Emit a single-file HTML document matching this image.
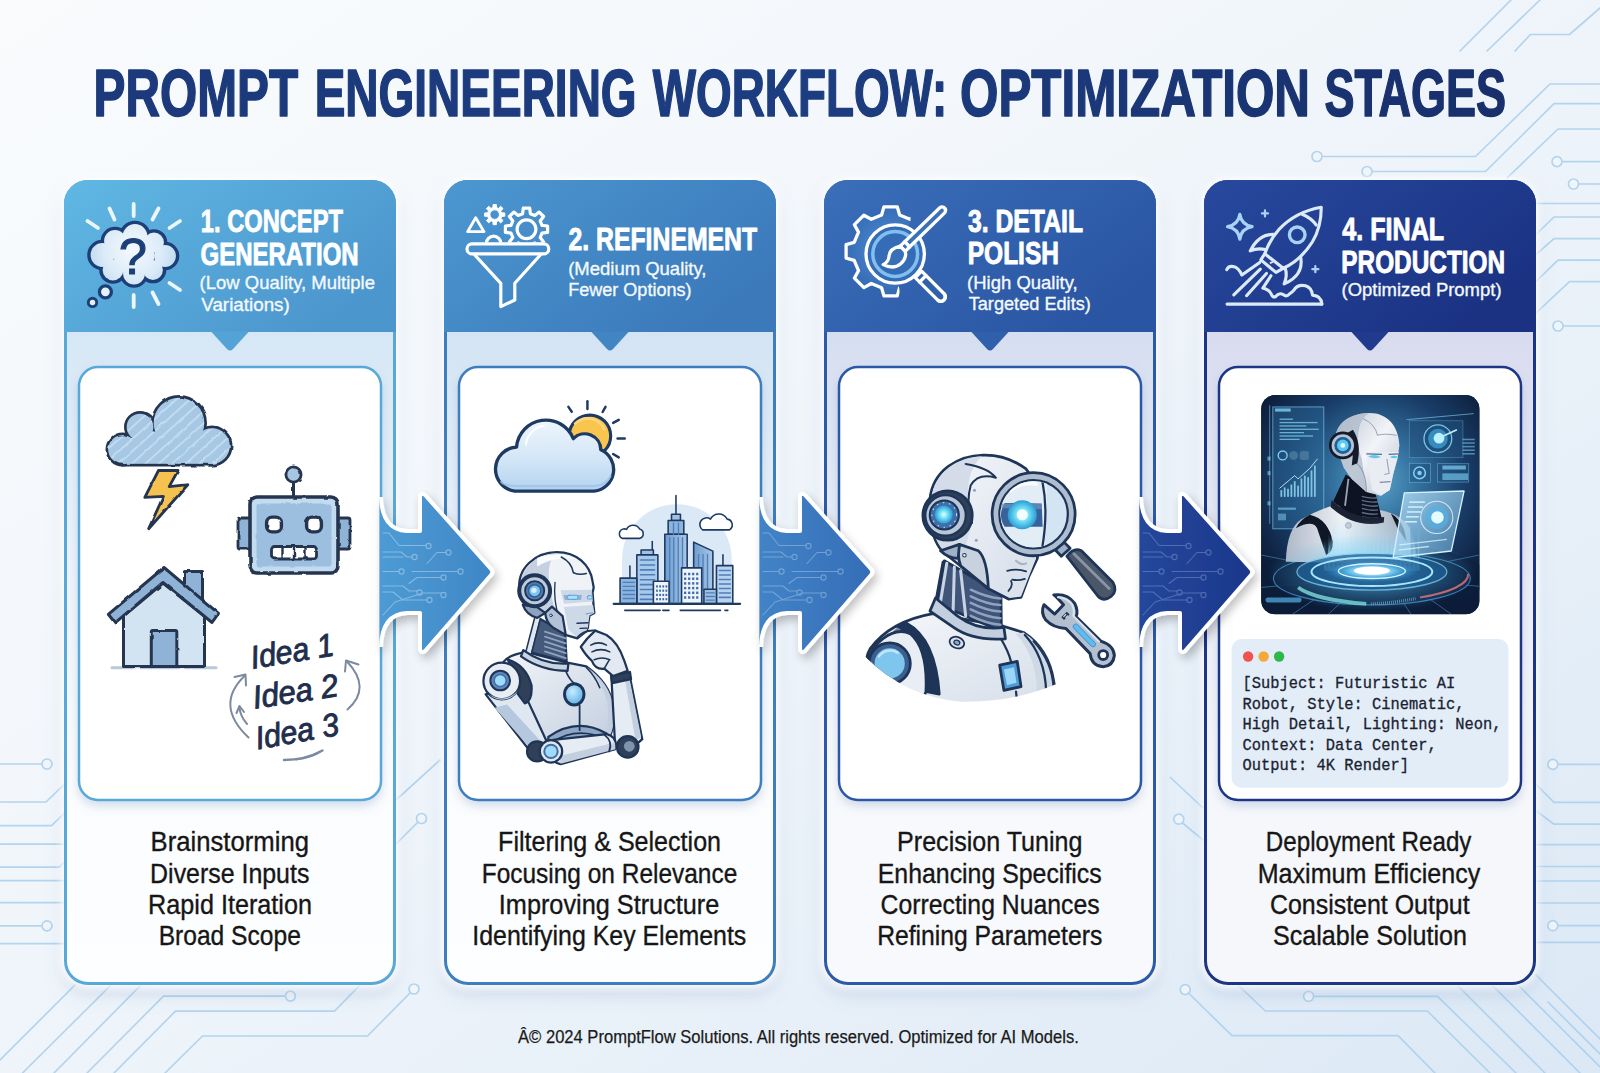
<!DOCTYPE html>
<html lang="en"><head><meta charset="utf-8"><title>Prompt Engineering Workflow: Optimization Stages</title>
<style>
html,body{margin:0;padding:0;background:#f1f6fb;}
body{width:1600px;height:1073px;overflow:hidden;font-family:"Liberation Sans",sans-serif;}
svg{display:block;position:absolute;left:0;top:0;}
</style></head><body>
<svg width="1600" height="1073" viewBox="0 0 1600 1073">
<defs>
<linearGradient id="bg" x1="0" y1="0" x2="1" y2="1"><stop offset="0" stop-color="#f9fbfd"/><stop offset="0.35" stop-color="#f3f7fb"/><stop offset="0.75" stop-color="#e6eff8"/><stop offset="1" stop-color="#dbe8f5"/></linearGradient>
<linearGradient id="ttl" gradientUnits="userSpaceOnUse" x1="96" y1="0" x2="1505" y2="0"><stop offset="0" stop-color="#1b397b"/><stop offset="0.5" stop-color="#1c3d80"/><stop offset="1" stop-color="#182f6b"/></linearGradient>
<linearGradient id="h0" x1="0" y1="0" x2="1" y2="0.6"><stop offset="0" stop-color="#60b8e3"/><stop offset="1" stop-color="#4c96ce"/></linearGradient>
<linearGradient id="b0" x1="0" y1="0" x2="0" y2="1"><stop offset="0" stop-color="#d0e4f4"/><stop offset="0.12" stop-color="#d0e4f4"/><stop offset="0.5" stop-color="#eef4fb"/><stop offset="0.75" stop-color="#fbfcfe"/><stop offset="1" stop-color="#fdfeff"/></linearGradient>
<linearGradient id="a0" x1="0" y1="0" x2="1" y2="0"><stop offset="0" stop-color="#4d9bd4"/><stop offset="1" stop-color="#3f86c6"/></linearGradient>
<clipPath id="cc0"><rect x="64" y="180" width="332" height="805" rx="24"/></clipPath>
<linearGradient id="h1" x1="0" y1="0" x2="1" y2="0.6"><stop offset="0" stop-color="#4c98d1"/><stop offset="1" stop-color="#3b79bb"/></linearGradient>
<linearGradient id="b1" x1="0" y1="0" x2="0" y2="1"><stop offset="0" stop-color="#cde0f2"/><stop offset="0.12" stop-color="#cde0f2"/><stop offset="0.5" stop-color="#eef4fb"/><stop offset="0.75" stop-color="#fbfcfe"/><stop offset="1" stop-color="#fdfeff"/></linearGradient>
<linearGradient id="a1" x1="0" y1="0" x2="1" y2="0"><stop offset="0" stop-color="#4283c7"/><stop offset="1" stop-color="#346db6"/></linearGradient>
<clipPath id="cc1"><rect x="444" y="180" width="332" height="805" rx="24"/></clipPath>
<linearGradient id="h2" x1="0" y1="0" x2="1" y2="0.6"><stop offset="0" stop-color="#3a6fba"/><stop offset="1" stop-color="#2a55a3"/></linearGradient>
<linearGradient id="b2" x1="0" y1="0" x2="0" y2="1"><stop offset="0" stop-color="#d0daee"/><stop offset="0.12" stop-color="#d0daee"/><stop offset="0.5" stop-color="#ebeff8"/><stop offset="0.75" stop-color="#f8f9fc"/><stop offset="1" stop-color="#f8f9fc"/></linearGradient>
<linearGradient id="a2" x1="0" y1="0" x2="1" y2="0"><stop offset="0" stop-color="#24479c"/><stop offset="1" stop-color="#1c378a"/></linearGradient>
<clipPath id="cc2"><rect x="824" y="180" width="332" height="805" rx="24"/></clipPath>
<linearGradient id="h3" x1="0" y1="0" x2="1" y2="0.6"><stop offset="0" stop-color="#27499e"/><stop offset="1" stop-color="#1b3283"/></linearGradient>
<linearGradient id="b3" x1="0" y1="0" x2="0" y2="1"><stop offset="0" stop-color="#d4d8ed"/><stop offset="0.12" stop-color="#d4d8ed"/><stop offset="0.5" stop-color="#eaecf6"/><stop offset="0.75" stop-color="#f6f7fb"/><stop offset="1" stop-color="#f6f7fb"/></linearGradient>
<clipPath id="cc3"><rect x="1204" y="180" width="332" height="805" rx="24"/></clipPath>
<filter id="sh" x="-12%" y="-6%" width="124%" height="112%"><feGaussianBlur in="SourceAlpha" stdDeviation="9"/><feOffset dx="0" dy="9" result="o"/><feFlood flood-color="#6f8fbd" flood-opacity="0.26"/><feComposite in2="o" operator="in" result="s1"/><feGaussianBlur in="SourceAlpha" stdDeviation="4.5" result="g"/><feFlood flood-color="#ffffff" flood-opacity="0.95"/><feComposite in2="g" operator="in" result="s2"/><feMerge><feMergeNode in="s1"/><feMergeNode in="s2"/><feMergeNode in="s2"/><feMergeNode in="SourceGraphic"/></feMerge></filter>
<filter id="sh2" x="-10%" y="-10%" width="120%" height="120%"><feGaussianBlur in="SourceAlpha" stdDeviation="5"/><feOffset dx="0" dy="5" result="o"/><feFlood flood-color="#6f8fbd" flood-opacity="0.28"/><feComposite in2="o" operator="in"/><feMerge><feMergeNode/><feMergeNode in="SourceGraphic"/></feMerge></filter>
<filter id="sh3" x="-20%" y="-20%" width="150%" height="150%"><feGaussianBlur in="SourceAlpha" stdDeviation="5"/><feOffset dx="3" dy="5"/><feComponentTransfer><feFuncA type="linear" slope="0.25"/></feComponentTransfer><feMerge><feMergeNode/><feMergeNode in="SourceGraphic"/></feMerge></filter>
</defs>
<rect width="1600" height="1073" fill="url(#bg)"/>
<g id="circuits" fill="none" stroke="#a9cfec" stroke-width="1.7" stroke-linejoin="round" stroke-linecap="round" opacity="0.85">
<polyline points="1460,51 1511,0"/>
<polyline points="1487,51 1540,0"/>
<polyline points="1515,51 1530.5,34.5 1569.5,34.5 1600,8"/>
<polyline points="1322,156.5 1475.5,156.5 1550,84 1600,84"/>
<circle cx="1317" cy="156.5" r="5" fill="#f1f6fb"/>
<polyline points="1372,171.5 1485.5,171.5 1554,103.7 1600,103.7"/>
<circle cx="1367" cy="171.5" r="5" fill="#f1f6fb"/>
<polyline points="1507,178 1558,129 1600,129"/>
<polyline points="1562,161.6 1600,161.6"/>
<circle cx="1557" cy="161.6" r="5" fill="#f1f6fb"/>
<polyline points="1578.5,184 1600,184"/>
<circle cx="1573.5" cy="184" r="5" fill="#f1f6fb"/>
<polyline points="1536,203.5 1600,203.5"/>
<polyline points="1536,234.5 1554,217 1600,217"/>
<polyline points="1536,254.5 1554,238.7 1600,238.7"/>
<polyline points="1536,281.5 1558,260.2 1600,260.2"/>
<polyline points="1536,313 1569.5,281.7 1600,281.7"/>
<polyline points="1563,326 1600,326"/>
<circle cx="1558" cy="326" r="5" fill="#f1f6fb"/>
<polyline points="0,764 42,764"/>
<circle cx="47" cy="764" r="5" fill="#f1f6fb"/>
<polyline points="0,802 46,802 64,784.6"/>
<polyline points="0,825.7 51.5,825.7 64,813.7"/>
<polyline points="0,844.1 64,844.1"/>
<polyline points="0,867.2 59.3,867.2 64,862.5"/>
<polyline points="0,880.6 64,880.6"/>
<polyline points="0,902.7 64,902.7"/>
<polyline points="0,925.8 42,925.8"/>
<circle cx="47" cy="925.8" r="5" fill="#f1f6fb"/>
<polyline points="0,943.7 64,943.7"/>
<polyline points="0,1060 75,985"/>
<polyline points="22.5,1073 111,985"/>
<polyline points="54,1073 141,985"/>
<polyline points="87,1073 163.5,996.1 285.4,996.1"/>
<circle cx="290.4" cy="996.1" r="5" fill="#f1f6fb"/>
<polyline points="114,1073 175.5,1011.1 334.5,1011.1 360,985"/>
<polyline points="165,1073 202.5,1036 367.5,1036 410.5,992.5"/>
<circle cx="414" cy="989" r="5" fill="#f1f6fb"/>
<polyline points="395,845 418,822"/>
<circle cx="421.5" cy="818.5" r="5" fill="#f1f6fb"/>
<polyline points="396,800 440,760"/>
<polyline points="1170.5,777.5 1203,808"/>
<polyline points="1182,822.5 1203,840"/>
<circle cx="1178.8" cy="819.2" r="5" fill="#f1f6fb"/>
<polyline points="1188.5,993 1232,1035.7 1398,1035.7 1435,1073"/>
<circle cx="1185.2" cy="989.6" r="5" fill="#f1f6fb"/>
<polyline points="1313.6,996.3 1437.5,996.3 1516,1073"/>
<circle cx="1308.6" cy="996.3" r="5" fill="#f1f6fb"/>
<polyline points="1239,986 1265.4,1011 1427.3,1011 1490,1073"/>
<polyline points="1458,986 1545,1073"/>
<polyline points="1493,986 1580,1073"/>
<polyline points="1519,986 1600,1067"/>
<polyline points="1536,975 1600,1039"/>
<polyline points="1548,1002 1600,1054"/>
<polyline points="1557.8,764.4 1600,764.4"/>
<circle cx="1552.8" cy="764.4" r="5" fill="#f1f6fb"/>
<polyline points="1536.5,784.8 1554,802.3 1600,802.3"/>
<polyline points="1536.5,811 1554,824.2 1600,824.2"/>
<polyline points="1536.5,844.6 1600,844.6"/>
<polyline points="1536.5,866.5 1600,866.5"/>
<polyline points="1536.5,881 1600,881"/>
<polyline points="1536.5,903 1600,903"/>
<polyline points="1557.8,925.7 1600,925.7"/>
<circle cx="1552.8" cy="925.7" r="5" fill="#f1f6fb"/>
<polyline points="1536.5,942.3 1600,942.3"/>
</g>
<text id="title" font-family='"Liberation Sans", sans-serif' font-size="66" font-weight="bold"><tspan x="93.57" y="115.5" font-size="66" font-weight="bold" fill="url(#ttl)" stroke="url(#ttl)" stroke-width="1.6" stroke-linejoin="round" font-family='"Liberation Sans", sans-serif' textLength="204.63" lengthAdjust="spacingAndGlyphs" >PROMPT</tspan> <tspan x="314.70" y="115.5" font-size="66" font-weight="bold" fill="url(#ttl)" stroke="url(#ttl)" stroke-width="1.6" stroke-linejoin="round" font-family='"Liberation Sans", sans-serif' textLength="321.93" lengthAdjust="spacingAndGlyphs" >ENGINEERING</tspan> <tspan x="652.80" y="115.5" font-size="66" font-weight="bold" fill="url(#ttl)" stroke="url(#ttl)" stroke-width="1.6" stroke-linejoin="round" font-family='"Liberation Sans", sans-serif' textLength="294.48" lengthAdjust="spacingAndGlyphs" >WORKFLOW:</tspan> <tspan x="960.08" y="115.5" font-size="66" font-weight="bold" fill="url(#ttl)" stroke="url(#ttl)" stroke-width="1.6" stroke-linejoin="round" font-family='"Liberation Sans", sans-serif' textLength="349.93" lengthAdjust="spacingAndGlyphs" >OPTIMIZATION</tspan> <tspan x="1324.45" y="115.5" font-size="66" font-weight="bold" fill="url(#ttl)" stroke="url(#ttl)" stroke-width="1.6" stroke-linejoin="round" font-family='"Liberation Sans", sans-serif' textLength="181.55" lengthAdjust="spacingAndGlyphs" >STAGES</tspan></text>
<g id="card0">
<rect x="64" y="180" width="332" height="805" rx="24" fill="url(#b0)" filter="url(#sh)"/>
<rect x="65.5" y="181.5" width="329" height="802" rx="22.5" fill="none" stroke="#58a8d8" stroke-width="3"/>
<g clip-path="url(#cc0)"><rect x="64" y="180" width="332" height="152" fill="url(#h0)"/></g>
<path d="M211.0 331.5 L249.0 331.5 L233.0 349 Q230.0 352 227.0 349 Z" fill="#54a3d6"/>
<rect x="79" y="367" width="302" height="433" rx="19" fill="#ffffff" stroke="#58a8d8" stroke-width="2.5" filter="url(#sh2)"/>
</g>
<!--HEAD0-->
<!--ILLUS0-->
<g id="card1">
<rect x="444" y="180" width="332" height="805" rx="24" fill="url(#b1)" filter="url(#sh)"/>
<rect x="445.5" y="181.5" width="329" height="802" rx="22.5" fill="none" stroke="#3e7ebf" stroke-width="3"/>
<g clip-path="url(#cc1)"><rect x="444" y="180" width="332" height="152" fill="url(#h1)"/></g>
<path d="M591.0 331.5 L629.0 331.5 L613.0 349 Q610.0 352 607.0 349 Z" fill="#4185c3"/>
<rect x="459" y="367" width="302" height="433" rx="19" fill="#ffffff" stroke="#3e7ebf" stroke-width="2.5" filter="url(#sh2)"/>
</g>
<!--HEAD1-->
<!--ILLUS1-->
<g id="card2">
<rect x="824" y="180" width="332" height="805" rx="24" fill="url(#b2)" filter="url(#sh)"/>
<rect x="825.5" y="181.5" width="329" height="802" rx="22.5" fill="none" stroke="#2c59a8" stroke-width="3"/>
<g clip-path="url(#cc2)"><rect x="824" y="180" width="332" height="152" fill="url(#h2)"/></g>
<path d="M971.0 331.5 L1009.0 331.5 L993.0 349 Q990.0 352 987.0 349 Z" fill="#305fac"/>
<rect x="839" y="367" width="302" height="433" rx="19" fill="#ffffff" stroke="#2c59a8" stroke-width="2.5" filter="url(#sh2)"/>
</g>
<!--HEAD2-->
<!--ILLUS2-->
<g id="card3">
<rect x="1204" y="180" width="332" height="805" rx="24" fill="url(#b3)" filter="url(#sh)"/>
<rect x="1205.5" y="181.5" width="329" height="802" rx="22.5" fill="none" stroke="#1c3585" stroke-width="3"/>
<g clip-path="url(#cc3)"><rect x="1204" y="180" width="332" height="152" fill="url(#h3)"/></g>
<path d="M1351.0 331.5 L1389.0 331.5 L1373.0 349 Q1370.0 352 1367.0 349 Z" fill="#203b8d"/>
<rect x="1219" y="367" width="302" height="433" rx="19" fill="#ffffff" stroke="#1c3585" stroke-width="2.5" filter="url(#sh2)"/>
</g>
<text x="200.87" y="231.9" font-size="31.4" font-weight="bold" fill="#ffffff" stroke="#ffffff" stroke-width="0.9" stroke-linejoin="round" font-family='"Liberation Sans", sans-serif' textLength="142.04" lengthAdjust="spacingAndGlyphs" >1. CONCEPT</text>
<text x="200.49" y="264.9" font-size="31.4" font-weight="bold" fill="#ffffff" stroke="#ffffff" stroke-width="0.9" stroke-linejoin="round" font-family='"Liberation Sans", sans-serif' textLength="158.19" lengthAdjust="spacingAndGlyphs" >GENERATION</text>
<text x="199.62" y="288.8" font-size="18.6" font-weight="normal" fill="#f4f9fe" stroke="#f4f9fe" stroke-width="0.35" stroke-linejoin="round" font-family='"Liberation Sans", sans-serif' textLength="175.40" lengthAdjust="spacingAndGlyphs" >(Low Quality, Multiple</text>
<text x="201.28" y="310.6" font-size="18.6" font-weight="normal" fill="#f4f9fe" stroke="#f4f9fe" stroke-width="0.35" stroke-linejoin="round" font-family='"Liberation Sans", sans-serif' textLength="88.49" lengthAdjust="spacingAndGlyphs" >Variations)</text>
<text x="568.48" y="250.2" font-size="31.8" font-weight="bold" fill="#ffffff" stroke="#ffffff" stroke-width="0.9" stroke-linejoin="round" font-family='"Liberation Sans", sans-serif' textLength="188.66" lengthAdjust="spacingAndGlyphs" >2. REFINEMENT</text>
<text x="568.22" y="274.7" font-size="18.6" font-weight="normal" fill="#f4f9fe" stroke="#f4f9fe" stroke-width="0.35" stroke-linejoin="round" font-family='"Liberation Sans", sans-serif' textLength="138.29" lengthAdjust="spacingAndGlyphs" >(Medium Quality,</text>
<text x="568.19" y="296.1" font-size="18.6" font-weight="normal" fill="#f4f9fe" stroke="#f4f9fe" stroke-width="0.35" stroke-linejoin="round" font-family='"Liberation Sans", sans-serif' textLength="123.33" lengthAdjust="spacingAndGlyphs" >Fewer Options)</text>
<text x="967.99" y="231.8" font-size="31.4" font-weight="bold" fill="#ffffff" stroke="#ffffff" stroke-width="0.9" stroke-linejoin="round" font-family='"Liberation Sans", sans-serif' textLength="115.03" lengthAdjust="spacingAndGlyphs" >3. DETAIL</text>
<text x="967.69" y="264.3" font-size="31.4" font-weight="bold" fill="#ffffff" stroke="#ffffff" stroke-width="0.9" stroke-linejoin="round" font-family='"Liberation Sans", sans-serif' textLength="91.32" lengthAdjust="spacingAndGlyphs" >POLISH</text>
<text x="967.12" y="288.6" font-size="18.6" font-weight="normal" fill="#f4f9fe" stroke="#f4f9fe" stroke-width="0.35" stroke-linejoin="round" font-family='"Liberation Sans", sans-serif' textLength="110.59" lengthAdjust="spacingAndGlyphs" >(High Quality,</text>
<text x="968.67" y="310" font-size="18.6" font-weight="normal" fill="#f4f9fe" stroke="#f4f9fe" stroke-width="0.35" stroke-linejoin="round" font-family='"Liberation Sans", sans-serif' textLength="122.16" lengthAdjust="spacingAndGlyphs" >Targeted Edits)</text>
<text x="1342.17" y="240.2" font-size="31.8" font-weight="bold" fill="#ffffff" stroke="#ffffff" stroke-width="0.9" stroke-linejoin="round" font-family='"Liberation Sans", sans-serif' textLength="102.05" lengthAdjust="spacingAndGlyphs" >4. FINAL</text>
<text x="1341.31" y="272.6" font-size="31.8" font-weight="bold" fill="#ffffff" stroke="#ffffff" stroke-width="0.9" stroke-linejoin="round" font-family='"Liberation Sans", sans-serif' textLength="163.79" lengthAdjust="spacingAndGlyphs" >PRODUCTION</text>
<text x="1341.52" y="295.8" font-size="18.6" font-weight="normal" fill="#f4f9fe" stroke="#f4f9fe" stroke-width="0.35" stroke-linejoin="round" font-family='"Liberation Sans", sans-serif' textLength="160.03" lengthAdjust="spacingAndGlyphs" >(Optimized Prompt)</text>
<g id="ico1">
<defs><radialGradient id="cl1" cx="133" cy="250" r="48" gradientUnits="userSpaceOnUse"><stop offset="0" stop-color="#f4f9fd"/><stop offset="0.6" stop-color="#dcebf8"/><stop offset="1" stop-color="#b9d8f0"/></radialGradient></defs>
<circle cx="102.5" cy="255" r="13.5" fill="#1d3f78" stroke="#1d3f78" stroke-width="3.6"/>
<circle cx="115" cy="241" r="12.5" fill="#1d3f78" stroke="#1d3f78" stroke-width="3.6"/>
<circle cx="135" cy="236.5" r="14" fill="#1d3f78" stroke="#1d3f78" stroke-width="3.6"/>
<circle cx="154" cy="242.5" r="11.5" fill="#1d3f78" stroke="#1d3f78" stroke-width="3.6"/>
<circle cx="165" cy="256" r="12.5" fill="#1d3f78" stroke="#1d3f78" stroke-width="3.6"/>
<circle cx="153" cy="270" r="11.5" fill="#1d3f78" stroke="#1d3f78" stroke-width="3.6"/>
<circle cx="134" cy="273.5" r="12.5" fill="#1d3f78" stroke="#1d3f78" stroke-width="3.6"/>
<circle cx="113" cy="270" r="12" fill="#1d3f78" stroke="#1d3f78" stroke-width="3.6"/>
<circle cx="134" cy="255" r="22" fill="#1d3f78" stroke="#1d3f78" stroke-width="3.6"/>
<circle cx="102.5" cy="255" r="11.9" fill="url(#cl1)"/>
<circle cx="115" cy="241" r="10.9" fill="url(#cl1)"/>
<circle cx="135" cy="236.5" r="12.4" fill="url(#cl1)"/>
<circle cx="154" cy="242.5" r="9.9" fill="url(#cl1)"/>
<circle cx="165" cy="256" r="10.9" fill="url(#cl1)"/>
<circle cx="153" cy="270" r="9.9" fill="url(#cl1)"/>
<circle cx="134" cy="273.5" r="10.9" fill="url(#cl1)"/>
<circle cx="113" cy="270" r="10.4" fill="url(#cl1)"/>
<circle cx="134" cy="255" r="20.4" fill="url(#cl1)"/>
<circle cx="105.4" cy="291.8" r="6" fill="#e4f0fa" stroke="#1d3f78" stroke-width="3.3"/>
<circle cx="92.5" cy="302.4" r="4.2" fill="#e4f0fa" stroke="#1d3f78" stroke-width="2.9"/>
<text x="133" y="274" font-size="50" font-weight="normal" stroke="#1d3f78" stroke-width="1.2" fill="#1d3f78" text-anchor="middle" font-family='"Liberation Sans", sans-serif'>?</text>
<line x1="133.7" y1="204" x2="133.7" y2="216" stroke="#ebf6fd" stroke-width="3.8" stroke-linecap="round"/>
<line x1="109.5" y1="208.5" x2="114.5" y2="219.5" stroke="#ebf6fd" stroke-width="3.8" stroke-linecap="round"/>
<line x1="158.5" y1="208.5" x2="152.5" y2="219.5" stroke="#ebf6fd" stroke-width="3.8" stroke-linecap="round"/>
<line x1="87.5" y1="221" x2="98" y2="228" stroke="#ebf6fd" stroke-width="3.8" stroke-linecap="round"/>
<line x1="180" y1="221" x2="169.5" y2="228" stroke="#ebf6fd" stroke-width="3.8" stroke-linecap="round"/>
<line x1="133.7" y1="295" x2="133.7" y2="307" stroke="#ebf6fd" stroke-width="3.8" stroke-linecap="round"/>
<line x1="152.5" y1="292.5" x2="158.5" y2="304" stroke="#ebf6fd" stroke-width="3.8" stroke-linecap="round"/>
<line x1="169.5" y1="283" x2="180" y2="290" stroke="#ebf6fd" stroke-width="3.8" stroke-linecap="round"/>
</g>
<g id="ico2" fill="none" stroke="#ffffff" stroke-width="3.2" stroke-linejoin="round" stroke-linecap="round">
<clipPath id="ck2"><rect x="440" y="190" width="130" height="52.4"/></clipPath>
<g clip-path="url(#ck2)">
<path d="M530.4 244.7 L529.7 250.3 L523.3 250.3 L522.6 244.7 L518.2 242.9 L513.8 246.3 L509.4 241.9 L512.8 237.5 L511.0 233.1 L505.4 232.4 L505.4 226.0 L511.0 225.3 L512.8 220.9 L509.4 216.5 L513.8 212.1 L518.2 215.5 L522.6 213.7 L523.3 208.1 L529.7 208.1 L530.4 213.7 L534.8 215.5 L539.2 212.1 L543.6 216.5 L540.2 220.9 L542.0 225.3 L547.6 226.0 L547.6 232.4 L542.0 233.1 L540.2 237.5 L543.6 241.9 L539.2 246.3 L534.8 242.9 Z"/>
<circle cx="526.5" cy="229.2" r="9.4"/>
<path d="M501.7 212.8 L504.8 213.0 L504.8 216.2 L501.7 216.4 L500.9 218.3 L503.0 220.6 L500.7 222.9 L498.4 220.8 L496.5 221.6 L496.3 224.7 L493.1 224.7 L492.9 221.6 L491.0 220.8 L488.7 222.9 L486.4 220.6 L488.5 218.3 L487.7 216.4 L484.6 216.2 L484.6 213.0 L487.7 212.8 L488.5 210.9 L486.4 208.6 L488.7 206.3 L491.0 208.4 L492.9 207.6 L493.1 204.5 L496.3 204.5 L496.5 207.6 L498.4 208.4 L500.7 206.3 L503.0 208.6 L500.9 210.9 Z M499.5 214.6 A4.8 4.8 0 1 0 489.9 214.6 A4.8 4.8 0 1 0 499.5 214.6 Z" fill="#ffffff" fill-rule="evenodd" stroke-width="1"/>
<circle cx="493.6" cy="243.5" r="7.3"/>
<path d="M467.6 231.7 L484 231.7 L475.7 217.8 Z" stroke-width="2.8"/>
</g>
<rect x="467" y="243.9" width="81.8" height="10" rx="5"/>
<path d="M474.8 255 L500.8 283.3 L500.8 306.6 L514.8 300 L514.8 283.3 L540.3 255"/>
</g>
<g id="ico3" fill="none" stroke="#ffffff" stroke-width="3.3" stroke-linejoin="round" stroke-linecap="round">
<clipPath id="ck3"><path d="M820 190 L910.5 190 L910.5 222 L893 252 L899.5 290 L899.5 310 L820 310 Z"/></clipPath>
<defs><radialGradient id="g3b" cx="890" cy="251" r="48" gradientUnits="userSpaceOnUse"><stop offset="0.55" stop-color="#4a8bd0" stop-opacity="0.55"/><stop offset="1" stop-color="#3a74bd" stop-opacity="0.25"/></radialGradient></defs>
<path d="M927.0 242.4 L935.1 244.7 L935.1 258.1 L927.0 260.4 L922.7 270.7 L926.8 278.1 L917.3 287.6 L909.9 283.5 L899.6 287.8 L897.3 295.9 L883.9 295.9 L881.6 287.8 L871.3 283.5 L863.9 287.6 L854.4 278.1 L858.5 270.7 L854.2 260.4 L846.1 258.1 L846.1 244.7 L854.2 242.4 L858.5 232.1 L854.4 224.7 L863.9 215.2 L871.3 219.3 L881.6 215.0 L883.9 206.9 L897.3 206.9 L899.6 215.0 L909.9 219.3 L917.3 215.2 L926.8 224.7 L922.7 232.1 Z" clip-path="url(#ck3)" fill="url(#g3b)"/>
<circle cx="895.2" cy="254" r="29.2" fill="#356cb6"/>
<circle cx="895.2" cy="254" r="22.4" stroke="#82bff1" stroke-width="3.5"/>
<path d="M915.2 277.6 L921.6 271.2 L944.4 294 A4.6 4.6 0 0 1 938 300.4 Z" fill="#2f62ad" transform="translate(0 0)"/>
<path d="M944.4 294 A4.55 4.55 0 0 1 938 300.4" />
<line x1="919.6" y1="282" x2="926" y2="275.6"/>
<path d="M943.6 207.3 Q946.8 209 944.9 212.6 L909.5 247 L904.8 241.6 L939.8 207.8 Q941.6 206.2 943.6 207.3 Z" fill="#3a70b8"/>
<path d="M904.8 241.6 L909.5 247 L905.2 251.4 L900.2 246.2 Z" fill="#3a70b8"/>
<path d="M900.2 246.2 Q889.5 248.5 889 256.5 Q888.6 261.8 883.2 264.6 Q893.5 269.6 900.4 264 Q907.2 258 905.2 251.4 Z" fill="#3a70b8"/>
</g>
<g id="ico4" transform="translate(1215 195) scale(0.11186)" fill="none" stroke="#dcebfb" stroke-width="28" stroke-linejoin="round" stroke-linecap="round">
<path d="M950 110 Q720 150 570 310 Q490 400 445 525 L610 655 Q760 590 870 420 Q950 290 950 110 Z"/>
<path d="M780 172 Q860 205 905 268"/>
<path d="M445 525 L410 580 L545 692 L610 655"/>
<path d="M497 607 L512 600" stroke-width="16"/>
<circle cx="735" cy="356" r="70" stroke="#a9d3f6" stroke-width="30"/>
<path d="M525 352 Q390 350 315 500 Q380 470 450 488"/>
<path d="M768 565 Q790 720 618 795 Q650 720 628 655"/>
<path d="M105 668 Q120 632 165 640 Q210 650 240 715 L400 603"/>
<line x1="405" y1="662" x2="168" y2="893"/>
<line x1="460" y1="702" x2="282" y2="900"/>
<path d="M500 722 L428 832 Q490 850 505 890 Q520 925 545 905 Q575 870 610 890 Q640 915 665 885 Q690 870 705 850 Q740 795 810 812 Q865 830 872 895 Q950 900 955 975"/>
<line x1="108" y1="975" x2="955" y2="975"/>
<path d="M222 172 Q235 265 332 283 Q235 300 222 395 Q208 300 112 283 Q208 265 222 172 Z" stroke="#a9d3f6"/>
<path d="M447 138 V192 M420 165 H474 M897 636 V690 M870 663 H924" stroke="#a9d3f6" stroke-width="20"/>
</g>
<defs><filter id="rough" x="-5%" y="-5%" width="110%" height="110%"><feTurbulence type="fractalNoise" baseFrequency="0.09" numOctaves="2" seed="7" result="n"/><feDisplacementMap in="SourceGraphic" in2="n" scale="2.6" xChannelSelector="R" yChannelSelector="G"/></filter></defs>
<g id="il0" stroke-linejoin="round" stroke-linecap="round" filter="url(#rough)">
<defs><pattern id="hatch0" width="9" height="9" patternUnits="userSpaceOnUse" patternTransform="rotate(-42)"><rect width="9" height="9" fill="#a7c8e4"/><rect y="0" width="9" height="1.6" fill="#c7dff2"/></pattern></defs>
<circle cx="122.5" cy="449.5" r="15.5" fill="#26364f" stroke="#26364f" stroke-width="3"/>
<circle cx="140" cy="427" r="14.5" fill="#26364f" stroke="#26364f" stroke-width="3"/>
<circle cx="179" cy="423" r="26.5" fill="#26364f" stroke="#26364f" stroke-width="3"/>
<circle cx="212" cy="446" r="19" fill="#26364f" stroke="#26364f" stroke-width="3"/>
<circle cx="153" cy="441" r="11" fill="#26364f" stroke="#26364f" stroke-width="3"/>
<rect x="122" y="440" width="90" height="25" fill="#26364f" stroke="#26364f" stroke-width="3"/>
<circle cx="122.5" cy="449.5" r="14.3" fill="url(#hatch0)"/>
<circle cx="140" cy="427" r="13.3" fill="url(#hatch0)"/>
<circle cx="179" cy="423" r="25.3" fill="url(#hatch0)"/>
<circle cx="212" cy="446" r="17.8" fill="url(#hatch0)"/>
<circle cx="153" cy="441" r="9.8" fill="url(#hatch0)"/>
<rect x="122" y="438" width="90" height="25.8" fill="url(#hatch0)"/>
<path d="M158.5 470.5 L178 470.5 L169.2 486.6 L187.8 484.7 L148.7 528.7 L163.4 496.4 L144.8 497.4 Z" fill="#f5c250" stroke="#26364f" stroke-width="2.8"/>
<line x1="293.5" y1="496" x2="293.5" y2="482" stroke="#26364f" stroke-width="3"/>
<circle cx="293.5" cy="474.5" r="7.6" fill="#a7c6e2" stroke="#26364f" stroke-width="2.8"/>
<rect x="238" y="518" width="13" height="31" rx="2" fill="#8fb3d6" stroke="#26364f" stroke-width="2.8"/>
<rect x="337" y="518" width="13" height="31" rx="2" fill="#8fb3d6" stroke="#26364f" stroke-width="2.8"/>
<rect x="250" y="497" width="88" height="76" rx="7" fill="#c3dbef" stroke="#26364f" stroke-width="3.6"/>
<rect x="256.5" y="503.5" width="75" height="63" rx="3" fill="#9dbfdf"/>
<rect x="266.6" y="517.1" width="14.8" height="14.8" rx="5.5" fill="#ffffff" stroke="#26364f" stroke-width="3.4"/>
<rect x="306.6" y="517.1" width="14.8" height="14.8" rx="5.5" fill="#ffffff" stroke="#26364f" stroke-width="3.4"/>
<rect x="271.5" y="546.5" width="45" height="12.5" rx="3" fill="#ffffff" stroke="#26364f" stroke-width="2.8"/>
<line x1="282.5" y1="547" x2="282.5" y2="558.5" stroke="#26364f" stroke-width="2.4"/>
<line x1="294" y1="547" x2="294" y2="558.5" stroke="#26364f" stroke-width="2.4"/>
<line x1="305.5" y1="547" x2="305.5" y2="558.5" stroke="#26364f" stroke-width="2.4"/>
<line x1="112" y1="667.8" x2="216" y2="667.8" stroke="#b9c9dc" stroke-width="3"/>
<path d="M184.5 588 L184.5 571.5 L202.5 571.5 L202.5 602 Z" fill="#8fb3d6" stroke="#26364f" stroke-width="3"/>
<path d="M123.5 616 L163 583 L204.5 616 L204.5 666.5 L123.5 666.5 Z" fill="#d2e3f2" stroke="#26364f" stroke-width="3"/>
<path d="M164 567.5 L218.5 613.3 L212 622.5 L163 582.5 L115 622.8 L108.3 614.3 Z" fill="#8fb3d6" stroke="#26364f" stroke-width="3"/>
<rect x="151.3" y="630.5" width="25.5" height="36" rx="1.5" fill="#8fb3d6" stroke="#26364f" stroke-width="3"/>
</g><g id="il0b" stroke-linejoin="round" stroke-linecap="round">
<text x="252.5" y="669" transform="rotate(-9.5 252.5 669)" font-size="32.5" font-style="italic" font-weight="normal" fill="#1f2e4d" stroke="#1f2e4d" stroke-width="0.9" textLength="84" lengthAdjust="spacingAndGlyphs" font-family='"Liberation Sans", sans-serif'>Idea 1</text>
<text x="254.5" y="708.7" transform="rotate(-8.6 254.5 708.7)" font-size="32.5" font-style="italic" font-weight="normal" fill="#1f2e4d" stroke="#1f2e4d" stroke-width="0.9" textLength="86" lengthAdjust="spacingAndGlyphs" font-family='"Liberation Sans", sans-serif'>Idea 2</text>
<text x="257.5" y="749.4" transform="rotate(-10 257.5 749.4)" font-size="32.5" font-style="italic" font-weight="normal" fill="#1f2e4d" stroke="#1f2e4d" stroke-width="0.9" textLength="84" lengthAdjust="spacingAndGlyphs" font-family='"Liberation Sans", sans-serif'>Idea 3</text>
<g fill="none" stroke="#7c8a9f" stroke-width="2">
<path d="M248.5 737.5 Q214 705 245 675.5"/><path d="M234.5 677 L245.5 674.5 L246 685.5"/>
<path d="M247 724 Q240 716 239.5 707"/><path d="M236.5 713 L239.5 706 L244 712"/>
<path d="M347.5 709.5 Q372 688 347 661.5"/><path d="M345 671.5 L346 660.5 L358.5 664.5"/>
<path d="M284 760 Q305 760 322.5 750.5" stroke-width="2.4"/><path d="M296 759.5 Q312 757.5 320 752"/>
</g>
</g>
<g id="il1" stroke-linejoin="round" stroke-linecap="round">
<defs><linearGradient id="cl2" x1="0" y1="0" x2="0" y2="1"><stop offset="0" stop-color="#eef5fc"/><stop offset="0.55" stop-color="#d3e6f7"/><stop offset="1" stop-color="#b3d3ef"/></linearGradient><linearGradient id="bld" x1="0" y1="0" x2="1" y2="0"><stop offset="0" stop-color="#6e9dd0"/><stop offset="1" stop-color="#a9c8e8"/></linearGradient><linearGradient id="rb" x1="0" y1="0" x2="1" y2="1"><stop offset="0" stop-color="#f2f5f9"/><stop offset="1" stop-color="#c3cfdf"/></linearGradient><radialGradient id="glow" cx="0.4" cy="0.35" r="0.7"><stop offset="0" stop-color="#c8ecfd"/><stop offset="1" stop-color="#63b4e8"/></radialGradient></defs>
<g transform="translate(470 380) scale(0.22365)">
<line x1="525" y1="95" x2="525" y2="130" stroke="#1e3a63" stroke-width="11"/>
<line x1="440" y1="120" x2="455" y2="142" stroke="#1e3a63" stroke-width="11"/>
<line x1="606" y1="120" x2="593" y2="143" stroke="#1e3a63" stroke-width="11"/>
<line x1="665" y1="178" x2="640" y2="192" stroke="#1e3a63" stroke-width="11"/>
<line x1="692" y1="262" x2="660" y2="262" stroke="#1e3a63" stroke-width="11"/>
<line x1="665" y1="346" x2="640" y2="331" stroke="#1e3a63" stroke-width="11"/>
<circle cx="536" cy="250" r="93" fill="#f9c54f" stroke="#1e3a63" stroke-width="14"/>
<path d="M470 195 A 80 80 0 0 1 600 220" fill="none" stroke="#fbd77e" stroke-width="12"/>
<path d="M200 497 L555 497 A 97 97 0 0 0 585 312 A 72 72 0 0 0 462 262 A 132 132 0 0 0 208 300 A 99 99 0 0 0 200 497 Z" fill="url(#cl2)" stroke="#1e3a63" stroke-width="15"/>
<path d="M250 290 A 95 95 0 0 1 330 205" fill="none" stroke="#ffffff" stroke-width="9" opacity="0.9"/>
<path d="M140 455 Q150 470 200 474 L560 474 Q610 470 628 430" fill="none" stroke="#9cc3e8" stroke-width="10" opacity="0.8"/>
<path d="M680 1000 L680 800 A 245 245 0 0 1 1170 800 L1170 1000 Z" fill="#dbe9f6" stroke="none"/>
<path d="M680 708 L760 708 A 22 22 0 0 0 758 666 A 33 33 0 0 0 700 668 A 22 22 0 0 0 680 708 Z" fill="#ffffff" stroke="#1e3a63" stroke-width="7"/>
<path d="M1040 670 L1160 670 A 26 26 0 0 0 1150 622 A 42 42 0 0 0 1075 622 A 28 28 0 0 0 1040 670 Z" fill="#ffffff" stroke="#1e3a63" stroke-width="7"/>
<path d="M1000 1000 L1000 725 L1086 765 L1086 1000 Z" fill="url(#bld)" stroke="#1e3a63" stroke-width="7"/>
<line x1="1022" y1="780" x2="1022" y2="940" stroke="#4e7fb8" stroke-width="6"/>
<line x1="1042" y1="780" x2="1042" y2="940" stroke="#4e7fb8" stroke-width="6"/>
<line x1="1062" y1="780" x2="1062" y2="940" stroke="#4e7fb8" stroke-width="6"/>
<line x1="921" y1="517" x2="921" y2="600" stroke="#1e3a63" stroke-width="7"/>
<rect x="901" y="600" width="40" height="28" fill="#9fc1e6" stroke="#1e3a63" stroke-width="7"/>
<rect x="886" y="628" width="70" height="62" fill="#8db4de" stroke="#1e3a63" stroke-width="7"/>
<rect x="871" y="690" width="100" height="310" fill="url(#bld)" stroke="#1e3a63" stroke-width="7"/>
<line x1="893" y1="705" x2="893" y2="990" stroke="#4e7fb8" stroke-width="6"/>
<line x1="911" y1="705" x2="911" y2="990" stroke="#4e7fb8" stroke-width="6"/>
<line x1="931" y1="705" x2="931" y2="990" stroke="#4e7fb8" stroke-width="6"/>
<line x1="950" y1="705" x2="950" y2="990" stroke="#4e7fb8" stroke-width="6"/>
<line x1="910" y1="640" x2="910" y2="690" stroke="#4e7fb8" stroke-width="6"/><line x1="932" y1="640" x2="932" y2="690" stroke="#4e7fb8" stroke-width="6"/>
<line x1="815" y1="722" x2="815" y2="765" stroke="#1e3a63" stroke-width="7"/>
<rect x="765" y="760" width="55" height="24" fill="#9fc1e6" stroke="#1e3a63" stroke-width="7"/>
<rect x="746" y="782" width="94" height="218" fill="#a9c9ea" stroke="#1e3a63" stroke-width="7"/>
<line x1="762" y1="805" x2="825" y2="805" stroke="#4e7fb8" stroke-width="7"/>
<line x1="762" y1="827" x2="825" y2="827" stroke="#4e7fb8" stroke-width="7"/>
<line x1="762" y1="849" x2="825" y2="849" stroke="#4e7fb8" stroke-width="7"/>
<line x1="762" y1="871" x2="825" y2="871" stroke="#4e7fb8" stroke-width="7"/>
<line x1="762" y1="893" x2="825" y2="893" stroke="#4e7fb8" stroke-width="7"/>
<line x1="762" y1="915" x2="825" y2="915" stroke="#4e7fb8" stroke-width="7"/>
<line x1="762" y1="937" x2="825" y2="937" stroke="#4e7fb8" stroke-width="7"/>
<line x1="762" y1="959" x2="825" y2="959" stroke="#4e7fb8" stroke-width="7"/>
<line x1="762" y1="981" x2="825" y2="981" stroke="#4e7fb8" stroke-width="7"/>
<line x1="715" y1="832" x2="715" y2="886" stroke="#1e3a63" stroke-width="7"/>
<rect x="671" y="886" width="75" height="114" fill="#8db4de" stroke="#1e3a63" stroke-width="7"/>
<line x1="685" y1="905" x2="735" y2="905" stroke="#4e7fb8" stroke-width="6"/>
<line x1="685" y1="923" x2="735" y2="923" stroke="#4e7fb8" stroke-width="6"/>
<line x1="685" y1="941" x2="735" y2="941" stroke="#4e7fb8" stroke-width="6"/>
<line x1="685" y1="959" x2="735" y2="959" stroke="#4e7fb8" stroke-width="6"/>
<line x1="685" y1="977" x2="735" y2="977" stroke="#4e7fb8" stroke-width="6"/>
<line x1="1131" y1="782" x2="1131" y2="830" stroke="#1e3a63" stroke-width="7"/>
<rect x="1102" y="830" width="73" height="170" fill="#b9d3ee" stroke="#1e3a63" stroke-width="7"/>
<line x1="1115" y1="852" x2="1164" y2="852" stroke="#4e7fb8" stroke-width="7"/>
<line x1="1115" y1="872" x2="1164" y2="872" stroke="#4e7fb8" stroke-width="7"/>
<line x1="1115" y1="892" x2="1164" y2="892" stroke="#4e7fb8" stroke-width="7"/>
<line x1="1115" y1="912" x2="1164" y2="912" stroke="#4e7fb8" stroke-width="7"/>
<line x1="1115" y1="932" x2="1164" y2="932" stroke="#4e7fb8" stroke-width="7"/>
<line x1="1115" y1="952" x2="1164" y2="952" stroke="#4e7fb8" stroke-width="7"/>
<line x1="1115" y1="972" x2="1164" y2="972" stroke="#4e7fb8" stroke-width="7"/>
<rect x="946" y="840" width="90" height="160" fill="#eef4fb" stroke="#1e3a63" stroke-width="7"/>
<rect x="957" y="862" width="10" height="11" fill="#3f6ea8"/>
<rect x="975" y="862" width="10" height="11" fill="#3f6ea8"/>
<rect x="993" y="862" width="10" height="11" fill="#3f6ea8"/>
<rect x="1011" y="862" width="10" height="11" fill="#3f6ea8"/>
<rect x="957" y="883" width="10" height="11" fill="#3f6ea8"/>
<rect x="975" y="883" width="10" height="11" fill="#3f6ea8"/>
<rect x="993" y="883" width="10" height="11" fill="#3f6ea8"/>
<rect x="1011" y="883" width="10" height="11" fill="#3f6ea8"/>
<rect x="957" y="904" width="10" height="11" fill="#3f6ea8"/>
<rect x="975" y="904" width="10" height="11" fill="#3f6ea8"/>
<rect x="993" y="904" width="10" height="11" fill="#3f6ea8"/>
<rect x="1011" y="904" width="10" height="11" fill="#3f6ea8"/>
<rect x="957" y="925" width="10" height="11" fill="#3f6ea8"/>
<rect x="975" y="925" width="10" height="11" fill="#3f6ea8"/>
<rect x="993" y="925" width="10" height="11" fill="#3f6ea8"/>
<rect x="1011" y="925" width="10" height="11" fill="#3f6ea8"/>
<rect x="957" y="946" width="10" height="11" fill="#3f6ea8"/>
<rect x="975" y="946" width="10" height="11" fill="#3f6ea8"/>
<rect x="993" y="946" width="10" height="11" fill="#3f6ea8"/>
<rect x="1011" y="946" width="10" height="11" fill="#3f6ea8"/>
<rect x="957" y="967" width="10" height="11" fill="#3f6ea8"/>
<rect x="975" y="967" width="10" height="11" fill="#3f6ea8"/>
<rect x="993" y="967" width="10" height="11" fill="#3f6ea8"/>
<rect x="1011" y="967" width="10" height="11" fill="#3f6ea8"/>
<rect x="820" y="900" width="70" height="100" fill="#eef4fb" stroke="#1e3a63" stroke-width="7"/>
<rect x="832" y="918" width="8" height="10" fill="#3f6ea8"/>
<rect x="846" y="918" width="8" height="10" fill="#3f6ea8"/>
<rect x="860" y="918" width="8" height="10" fill="#3f6ea8"/>
<rect x="874" y="918" width="8" height="10" fill="#3f6ea8"/>
<rect x="832" y="937" width="8" height="10" fill="#3f6ea8"/>
<rect x="846" y="937" width="8" height="10" fill="#3f6ea8"/>
<rect x="860" y="937" width="8" height="10" fill="#3f6ea8"/>
<rect x="874" y="937" width="8" height="10" fill="#3f6ea8"/>
<rect x="832" y="956" width="8" height="10" fill="#3f6ea8"/>
<rect x="846" y="956" width="8" height="10" fill="#3f6ea8"/>
<rect x="860" y="956" width="8" height="10" fill="#3f6ea8"/>
<rect x="874" y="956" width="8" height="10" fill="#3f6ea8"/>
<rect x="832" y="975" width="8" height="10" fill="#3f6ea8"/>
<rect x="846" y="975" width="8" height="10" fill="#3f6ea8"/>
<rect x="860" y="975" width="8" height="10" fill="#3f6ea8"/>
<rect x="874" y="975" width="8" height="10" fill="#3f6ea8"/>
<rect x="1046" y="936" width="56" height="64" fill="#9fc1e6" stroke="#1e3a63" stroke-width="7"/>
<line x1="1056" y1="952" x2="1092" y2="952" stroke="#4e7fb8" stroke-width="6"/>
<line x1="1056" y1="968" x2="1092" y2="968" stroke="#4e7fb8" stroke-width="6"/>
<line x1="1056" y1="984" x2="1092" y2="984" stroke="#4e7fb8" stroke-width="6"/>
<line x1="642" y1="1001" x2="1208" y2="1001" stroke="#1e3a63" stroke-width="9"/>
<line x1="692" y1="1030" x2="850" y2="1030" stroke="#1e3a63" stroke-width="7"/>
<line x1="862" y1="1030" x2="890" y2="1030" stroke="#1e3a63" stroke-width="7"/>
<line x1="940" y1="1030" x2="1120" y2="1030" stroke="#1e3a63" stroke-width="7"/>
<line x1="1140" y1="1030" x2="1153" y2="1030" stroke="#1e3a63" stroke-width="7"/>
</g>
<g id="robot2" transform="translate(470 540) scale(0.22371)" stroke-linejoin="round" stroke-linecap="round">
<path d="M70 690 L285 965 L395 900 L225 650 Z" fill="#dfe7f1" stroke="#1e3557" stroke-width="10"/>
<path d="M110 750 L290 955 L340 925 L165 735 Z" fill="#b5c8de" stroke="none"/>
<path d="M250 500 Q170 515 150 545 L250 700 L345 905 L620 890 Q655 820 640 740 Q625 640 520 565 L435 548 Z" fill="url(#rb)" stroke="#1e3557" stroke-width="10"/>
<path d="M520 565 Q600 640 615 740 Q625 820 600 888 L620 890 Q655 820 640 740 Q625 640 520 565 Z" fill="#c3cfdf" stroke="none"/>
<path d="M350 880 Q480 790 610 865 L620 900 L350 915 Z" fill="#8fa7c6" stroke="#1e3557" stroke-width="10"/>
<path d="M365 905 Q480 830 605 890" fill="none" stroke="#1e3557" stroke-width="7"/>
<path d="M430 590 Q445 625 470 645 M490 740 L490 850" fill="none" stroke="#1e3557" stroke-width="8"/>
<ellipse cx="466" cy="690" rx="50" ry="54" fill="#1e3557"/>
<ellipse cx="466" cy="690" rx="37" ry="41" fill="url(#glow)"/>
<path d="M520 570 Q560 610 580 660" fill="none" stroke="#1e3557" stroke-width="7"/>
<path d="M300 345 L425 415 L432 545 L262 500 Z" fill="#45597a" stroke="#1e3557" stroke-width="10"/>
<path d="M335 410 L428 440" stroke="#8fa3bf" stroke-width="8" fill="none"/>
<path d="M335 432 L428 462" stroke="#8fa3bf" stroke-width="8" fill="none"/>
<path d="M335 454 L428 484" stroke="#8fa3bf" stroke-width="8" fill="none"/>
<path d="M335 476 L428 506" stroke="#8fa3bf" stroke-width="8" fill="none"/>
<path d="M335 498 L428 528" stroke="#8fa3bf" stroke-width="8" fill="none"/>
<path d="M300 350 L262 500" stroke="#dfe7f1" stroke-width="22" fill="none"/>
<path d="M288 352 L250 498 M313 358 L276 503" stroke="#1e3557" stroke-width="7" fill="none"/>
<path d="M238 492 Q330 560 440 552 L436 585 Q320 585 228 520 Z" fill="#c9d4e2" stroke="#1e3557" stroke-width="10"/>
<path d="M222 232 C205 125 295 54 388 54 C478 54 538 112 548 185 L553 212 L548 236 L553 300 L556 326 L534 338 L530 366 L527 392 L518 410 L480 440 L426 424 L400 352 L336 326 Q238 330 222 232 Z" fill="#eff3f8" stroke="#1e3557" stroke-width="10"/>
<path d="M228 235 C212 130 298 60 388 59 C335 95 345 205 392 345 L338 320 Q244 326 228 235 Z" fill="#c5d1e0" stroke="none"/>
<path d="M300 80 C340 62 420 55 470 85 C420 75 350 85 300 120 Z" fill="#f9fbfd" stroke="none"/>
<path d="M420 300 L550 290 L556 326 L534 338 L530 366 L527 392 L518 410 L480 438 L440 400 Z" fill="#cdd9e7" stroke="none"/>
<path d="M405 225 L545 222 L550 275 L420 285 Z" fill="#c3d1e2" stroke="none" opacity="0.8"/>
<path d="M408 76 Q455 100 462 146 Q490 158 520 150" fill="none" stroke="#1e3557" stroke-width="7"/>
<path d="M398 346 Q372 270 380 190" fill="none" stroke="#1e3557" stroke-width="6"/>
<path d="M336 326 L366 298 L414 340 L428 424 L372 392 Q340 370 336 326 Z" fill="#b3c2d6" stroke="#1e3557" stroke-width="10"/>
<circle cx="362" cy="337" r="6" fill="#eef2f7" stroke="#1e3557" stroke-width="4"/>
<path d="M418 246 L500 246 L496 268 L424 268 Z" fill="#8fb0d4" stroke="none"/>
<rect x="436" y="247" width="46" height="18" rx="7" fill="#a9e4ff" stroke="#5b9bd5" stroke-width="4"/>
<rect x="524" y="249" width="22" height="15" rx="6" fill="#a9e4ff" stroke="#5b9bd5" stroke-width="4"/>
<path d="M520 330 L548 326" stroke="#8fa3bf" stroke-width="6" fill="none"/>
<path d="M478 372 L528 370 M492 395 L524 394" stroke="#1e3557" stroke-width="6" fill="none"/>
<path d="M236 290 Q252 335 300 348 L336 326 L300 300 Z" fill="#8fa3bf" stroke="#1e3557" stroke-width="10"/>
<circle cx="289" cy="227" r="75" fill="#1e3557" stroke="#1e3557" stroke-width="6"/>
<circle cx="289" cy="227" r="60" fill="#bccadc"/>
<circle cx="289" cy="227" r="43" fill="#4f79ad" stroke="#1e3557" stroke-width="8"/>
<circle cx="289" cy="227" r="27" fill="#7fc4ee" stroke="#2f5f98" stroke-width="6"/>
<circle cx="286" cy="225" r="12" fill="#d5f1fe"/>
<path d="M632 610 L648 905 Q700 960 770 890 L712 598 Z" fill="#e6ecf4" stroke="#1e3557" stroke-width="10"/>
<path d="M690 610 L740 895 Q755 890 765 880 L710 605 Z" fill="#c3cfdf" stroke="none"/>
<path d="M630 605 L715 590 L720 622 L636 640 Z" fill="#2f4058" stroke="#1e3557" stroke-width="10"/>
<path d="M495 478 Q520 440 560 405 L610 425 Q660 455 690 540 L705 585 L640 608 L600 575 Q560 580 545 540 Q520 520 495 478 Z" fill="#e3e9f2" stroke="#1e3557" stroke-width="10"/>
<path d="M540 470 Q575 450 610 470 M545 500 Q585 480 625 500 M555 535 Q590 520 625 535 M600 575 L620 540" fill="none" stroke="#1e3557" stroke-width="7"/>
<path d="M478 438 Q510 400 560 405" fill="none" stroke="#1e3557" stroke-width="9"/>
<circle cx="705" cy="925" r="48" fill="#2f4058" stroke="#1e3557" stroke-width="10"/>
<circle cx="712" cy="922" r="24" fill="#7f93ad"/>
<circle cx="300" cy="945" r="45" fill="#2f4058" stroke="#1e3557" stroke-width="10"/>
<path d="M372 893 L612 868 Q660 880 650 935 L405 1002 Q340 990 372 893 Z" fill="#e6ecf4" stroke="#1e3557" stroke-width="10"/>
<path d="M400 965 L648 905 L650 935 L405 1000 Z" fill="#c3cfdf" stroke="none"/>
<path d="M600 870 Q640 900 622 945" fill="none" stroke="#1e3557" stroke-width="8"/>
<circle cx="362" cy="945" r="50" fill="#dfe7f1" stroke="#1e3557" stroke-width="10"/>
<circle cx="362" cy="945" r="30" fill="#9fdcfb" stroke="#3f6ea8" stroke-width="9"/>
<path d="M170 535 Q250 560 275 650 Q280 720 245 730 L215 690 Z" fill="#2f4058" stroke="#1e3557" stroke-width="10"/>
<circle cx="142" cy="630" r="82" fill="#e8edf4" stroke="#1e3557" stroke-width="10"/>
<path d="M85 690 A 82 82 0 0 0 215 672 A 95 95 0 0 1 85 690 Z" fill="#b9c7d9" stroke="none"/>
<circle cx="135" cy="628" r="44" fill="#5f86b8" stroke="#1e3557" stroke-width="9"/>
<circle cx="135" cy="628" r="27" fill="#9fdcfb" stroke="#3f6ea8" stroke-width="7"/>
</g>
</g>
<g id="robot3" transform="translate(860 440) scale(0.25163)" stroke-linejoin="round" stroke-linecap="round">
<defs><clipPath id="r3clip"><path d="M0 0 L1073 0 L1073 972 L775 972 Q600 1045 400 1040 Q180 1020 20 860 L0 860 Z"/></clipPath><radialGradient id="eye3" cx="0.5" cy="0.5" r="0.5"><stop offset="0" stop-color="#eafdff"/><stop offset="0.4" stop-color="#7be6f8"/><stop offset="1" stop-color="#2a9bd6"/></radialGradient><linearGradient id="hd3" x1="0" y1="0" x2="1" y2="1"><stop offset="0" stop-color="#f6f8fb"/><stop offset="1" stop-color="#d4dde9"/></linearGradient></defs>
<g clip-path="url(#r3clip)">
<path d="M290 690 Q120 720 40 830 Q10 880 30 1000 L400 1073 L790 1073 L770 960 Q750 830 650 765 L570 740 Z" fill="url(#hd3)" stroke="#1e3557" stroke-width="11"/>
<path d="M650 765 Q750 830 770 960 L790 1073 L700 1073 Q720 880 620 770 Z" fill="#cfd8e5" stroke="none"/>
<path d="M655 775 Q735 860 740 1000" fill="none" stroke="#1e3557" stroke-width="9"/>
<path d="M690 800 Q765 880 770 990" fill="none" stroke="#1e3557" stroke-width="9"/>
<path d="M185 728 Q300 790 315 1010 L265 1000 Q270 820 150 745 Z" fill="#1e3557" stroke="#1e3557" stroke-width="11"/>
<path d="M150 745 Q270 820 265 1000 L240 995 Q240 830 130 760 Z" fill="#6f86a6" stroke="none"/>
<path d="M30 1000 Q0 860 90 790 Q150 745 200 770 Q270 830 262 1000 L240 1060 L60 1060 Z" fill="#e9eef5" stroke="#1e3557" stroke-width="11"/>
<circle cx="118" cy="888" r="82" fill="#3d5f8f" stroke="#1e3557" stroke-width="11"/>
<circle cx="118" cy="888" r="60" fill="#7fc6ee"/>
<path d="M75 860 A 55 55 0 0 1 150 845" stroke="#bfe6fa" stroke-width="10" fill="none"/>
<path d="M560 790 Q590 840 600 880 M620 1000 L628 1073" fill="none" stroke="#1e3557" stroke-width="9"/>
<ellipse cx="385" cy="805" rx="30" ry="22" fill="#d5deea" stroke="#1e3557" stroke-width="7" transform="rotate(20 385 805)"/>
<ellipse cx="385" cy="805" rx="12" ry="9" fill="#8fa7c6" stroke="#1e3557" stroke-width="5" transform="rotate(20 385 805)"/>
<path d="M555 895 L625 880 L640 980 L572 995 Z" fill="#4f9bd8" stroke="#1e3557" stroke-width="11"/>
<path d="M572 912 L612 903 L622 965 L584 975 Z" fill="#9ad6f7"/>
<path d="M335 480 L560 610 L562 760 L305 650 Z" fill="#41557a" stroke="#1e3557" stroke-width="11"/>
<path d="M440 595 Q500 625 558 630" stroke="#8fa3bf" stroke-width="10" fill="none"/>
<path d="M440 621 Q500 651 558 656" stroke="#8fa3bf" stroke-width="10" fill="none"/>
<path d="M440 647 Q500 677 558 682" stroke="#8fa3bf" stroke-width="10" fill="none"/>
<path d="M440 673 Q500 703 558 708" stroke="#8fa3bf" stroke-width="10" fill="none"/>
<path d="M440 699 Q500 729 558 734" stroke="#8fa3bf" stroke-width="10" fill="none"/>
<path d="M345 490 L318 655 M375 505 L370 680 M400 520 L420 700" stroke="#c9d4e2" stroke-width="12" fill="none"/>
<path d="M330 485 L300 650" stroke="#1e3557" stroke-width="11" fill="none"/>
<path d="M300 628 L388 700 Q470 760 572 745 L578 790 Q450 800 372 745 L278 680 Z" fill="#c3cfdf" stroke="#1e3557" stroke-width="11"/>
<path d="M278 235 C290 120 390 62 490 60 C570 58 620 85 660 115 L720 200 L705 470 L672 540 L640 625 L590 632 L505 588 L400 500 L330 445 Q270 380 278 235 Z" fill="url(#hd3)" stroke="#1e3557" stroke-width="11"/>
<path d="M283 235 C295 125 390 68 485 65 C420 120 420 230 445 330 L400 495 L332 440 Q275 380 283 235 Z" fill="#d3dce8" stroke="none"/>
<path d="M420 95 Q510 110 540 150 M440 180 Q470 130 540 150 M445 330 Q420 250 440 180" fill="none" stroke="#1e3557" stroke-width="8"/>
<path d="M395 415 L470 440 Q505 470 510 590 L400 500 Q385 460 395 415 Z" fill="#c8d2df" stroke="#1e3557" stroke-width="11"/>
<circle cx="415" cy="458" r="7" fill="#eef2f7" stroke="#1e3557" stroke-width="4"/>
<circle cx="455" cy="200" r="6" fill="#8fa3bf"/><circle cx="462" cy="398" r="6" fill="#8fa3bf"/>
<path d="M590 480 L700 470 L672 540 L640 622 L592 628 Z" fill="#dbe2ec" stroke="none"/>
<path d="M585 520 Q625 510 660 522 M605 555 Q630 560 655 552 M590 600 Q610 580 600 560" fill="none" stroke="#1e3557" stroke-width="7"/>
<path d="M620 480 Q640 500 660 490" stroke="#aab6c6" stroke-width="8" fill="none"/>
<path d="M320 440 Q350 470 390 470 L395 415 Z" fill="#9fb0c7" stroke="#1e3557" stroke-width="11"/>
<circle cx="348" cy="300" r="98" fill="#2f4058" stroke="#1e3557" stroke-width="11"/>
<circle cx="340" cy="300" r="80" fill="#b9c7d9" stroke="#1e3557" stroke-width="8"/>
<circle cx="335" cy="298" r="58" fill="#3f6ea8" stroke="#1e3557" stroke-width="8"/>
<circle cx="333" cy="296" r="36" fill="url(#eye3)"/>
<circle cx="335" cy="298" r="49" fill="none" stroke="#cfe9fa" stroke-width="4" stroke-dasharray="3 22"/>
</g>
<path d="M800 395 L835 430 L800 462 L768 428 Z" fill="#9fb0c7" stroke="#1e3557" stroke-width="11"/>
<path d="M822 462 Q850 425 880 440 L1005 565 Q1025 600 998 622 Q968 645 945 620 Z" fill="#4b5669" stroke="#1e3557" stroke-width="11"/>
<path d="M850 452 L990 590" stroke="#8793a6" stroke-width="12" fill="none"/>
<circle cx="690" cy="295" r="165" fill="#aebdd0" stroke="#1e3557" stroke-width="11"/>
<circle cx="690" cy="295" r="136" fill="#d3e4f3" stroke="#1e3557" stroke-width="9"/>
<clipPath id="glass3"><circle cx="690" cy="295" r="132"/></clipPath>
<g clip-path="url(#glass3)">
<path d="M556 150 L745 150 L735 440 L556 440 Z" fill="#e3edf6"/>
<path d="M575 250 L722 252 L726 345 L575 345 Q545 300 575 250 Z" fill="#37639a"/>
<path d="M556 252 L722 254 L722 275 L556 270 Z" fill="#6f93bf" opacity="0.7"/>
<path d="M725 165 Q750 290 722 440" fill="none" stroke="#1e3557" stroke-width="9"/>
<circle cx="645" cy="297" r="58" fill="url(#eye3)"/>
<circle cx="645" cy="297" r="22" fill="#f2fdff"/>
<path d="M600 200 A 120 120 0 0 1 700 175" stroke="#ffffff" stroke-width="14" fill="none" opacity="0.8"/>
</g>
</g>
<g id="wrench" transform="translate(1030 580) scale(0.0932)" stroke-linejoin="round" stroke-linecap="round">
<path d="M255 160 Q400 140 480 250 Q520 330 495 395 L760 655 Q900 700 905 810 Q895 920 785 930 Q660 925 645 790 L385 520 Q250 515 170 430 Q110 350 150 265 L265 365 L360 265 L275 175 Z" fill="#b4c0cf" stroke="#1e3557" stroke-width="32"/>
<path d="M300 185 Q400 190 455 270 Q480 330 465 385 L740 660" fill="none" stroke="#dbe3ec" stroke-width="22"/>
<circle cx="785" cy="805" r="48" fill="#ffffff" stroke="#1e3557" stroke-width="30"/>
<path d="M490 500 L675 690" stroke="#3f8fcf" stroke-width="62" fill="none"/>
<path d="M490 500 L675 690" stroke="#5fbcf0" stroke-width="46" fill="none"/>
<path d="M335 400 L395 340 L425 370 L365 430 Z" fill="#1e3557"/>
<path d="M362 392 L384 370 M384 404 L404 384" stroke="#dbe3ec" stroke-width="12" fill="none"/>
</g>
<g id="il3">
<defs><clipPath id="tile"><rect x="50" y="45" width="976" height="980" rx="62"/></clipPath><radialGradient id="tbg" cx="560" cy="430" r="620" gradientUnits="userSpaceOnUse"><stop offset="0" stop-color="#5aa6cc"/><stop offset="0.3" stop-color="#34719f"/><stop offset="0.65" stop-color="#193d68"/><stop offset="1" stop-color="#0c1c38"/></radialGradient><radialGradient id="holo" cx="0.5" cy="0.5" r="0.5"><stop offset="0" stop-color="#ffffff"/><stop offset="0.25" stop-color="#c9f2ff"/><stop offset="0.6" stop-color="#4fb4e6" stop-opacity="0.85"/><stop offset="1" stop-color="#2a7fc0" stop-opacity="0.1"/></radialGradient><linearGradient id="rbody" x1="0" y1="0" x2="1" y2="0"><stop offset="0" stop-color="#aeb8c8"/><stop offset="0.45" stop-color="#eef1f6"/><stop offset="1" stop-color="#9ba8bb"/></linearGradient><linearGradient id="rhead" x1="0" y1="0" x2="1" y2="1"><stop offset="0" stop-color="#b9c3d2"/><stop offset="0.5" stop-color="#f2f4f8"/><stop offset="1" stop-color="#b4bfd0"/></linearGradient><linearGradient id="beam" x1="0" y1="0" x2="0" y2="1"><stop offset="0" stop-color="#9fe0ff" stop-opacity="0"/><stop offset="1" stop-color="#9fe0ff" stop-opacity="0.75"/></linearGradient><linearGradient id="tab" x1="0" y1="0" x2="1" y2="1"><stop offset="0" stop-color="#bfe6fb" stop-opacity="0.75"/><stop offset="1" stop-color="#6fb4e0" stop-opacity="0.55"/></linearGradient><radialGradient id="hglow" cx="0.5" cy="0.5" r="0.5"><stop offset="0" stop-color="#8fdcff" stop-opacity="0.75"/><stop offset="0.6" stop-color="#4fb4e6" stop-opacity="0.3"/><stop offset="1" stop-color="#4fb4e6" stop-opacity="0"/></radialGradient><linearGradient id="hcol" x1="0" y1="0" x2="0" y2="1"><stop offset="0" stop-color="#9fe4ff" stop-opacity="0"/><stop offset="1" stop-color="#9fe4ff" stop-opacity="0.6"/></linearGradient></defs>
<g transform="translate(1250 385) scale(0.22367)">
<rect x="50" y="45" width="976" height="980" rx="62" fill="#0b1a35"/>
<g clip-path="url(#tile)">
<rect x="50" y="45" width="976" height="980" fill="url(#tbg)"/>
<rect x="102" y="98" width="228" height="545" fill="#2c6a98" fill-opacity="0.45" stroke="#7fd0f2" stroke-opacity="0.7" stroke-width="4"/>
<rect x="112" y="105" width="70" height="14" fill="#7fd0f2" opacity="0.8"/>
<rect x="132" y="150" width="60" height="6" fill="#7fd0f2" opacity="0.75"/>
<rect x="132" y="165" width="170" height="6" fill="#7fd0f2" opacity="0.75"/>
<rect x="132" y="180" width="120" height="6" fill="#7fd0f2" opacity="0.75"/>
<rect x="132" y="195" width="175" height="6" fill="#7fd0f2" opacity="0.75"/>
<rect x="132" y="210" width="110" height="6" fill="#7fd0f2" opacity="0.75"/>
<rect x="132" y="225" width="150" height="6" fill="#7fd0f2" opacity="0.75"/>
<rect x="132" y="240" width="90" height="6" fill="#7fd0f2" opacity="0.75"/>
<circle cx="146" cy="315" r="20" fill="none" stroke="#7fd0f2" stroke-width="6"/>
<circle cx="195" cy="315" r="20" fill="#4f7c9e" opacity="0.8"/><rect x="222" y="295" width="42" height="40" rx="12" fill="#4f7c9e" opacity="0.8"/>
<rect x="136" y="470" width="8" height="30" fill="#8fd6f5" opacity="0.85"/>
<rect x="151" y="458" width="8" height="42" fill="#8fd6f5" opacity="0.85"/>
<rect x="166" y="464" width="8" height="36" fill="#8fd6f5" opacity="0.85"/>
<rect x="181" y="445" width="8" height="55" fill="#8fd6f5" opacity="0.85"/>
<rect x="196" y="430" width="8" height="70" fill="#8fd6f5" opacity="0.85"/>
<rect x="211" y="450" width="8" height="50" fill="#8fd6f5" opacity="0.85"/>
<rect x="226" y="418" width="8" height="82" fill="#8fd6f5" opacity="0.85"/>
<rect x="241" y="405" width="8" height="95" fill="#8fd6f5" opacity="0.85"/>
<rect x="256" y="412" width="8" height="88" fill="#8fd6f5" opacity="0.85"/>
<rect x="271" y="382" width="8" height="118" fill="#8fd6f5" opacity="0.85"/>
<rect x="286" y="360" width="8" height="140" fill="#8fd6f5" opacity="0.85"/>
<path d="M132 462 L200 405 L215 420 L268 372 L302 330" fill="none" stroke="#bfeaff" stroke-width="4"/>
<rect x="125" y="548" width="80" height="10" fill="#7fd0f2" opacity="0.6"/><rect x="125" y="575" width="36" height="30" fill="#7fd0f2" opacity="0.5"/>
<line x1="88" y1="90" x2="88" y2="620" stroke="#7fd0f2" stroke-width="5" opacity="0.5"/>
<rect x="78" y="320" width="14" height="18" fill="#7fd0f2" opacity="0.6"/>
<rect x="78" y="385" width="14" height="18" fill="#7fd0f2" opacity="0.6"/>
<rect x="78" y="520" width="14" height="18" fill="#7fd0f2" opacity="0.6"/>
<rect x="712" y="160" width="240" height="165" fill="#1f4f7a" fill-opacity="0.5" stroke="#7fd0f2" stroke-opacity="0.45" stroke-width="3"/>
<line x1="700" y1="155" x2="1000" y2="128" stroke="#7fd0f2" stroke-width="4" opacity="0.7"/>
<circle cx="840" cy="240" r="62" fill="#1f4f7a" stroke="#7fd0f2" stroke-width="6" opacity="0.9"/>
<circle cx="840" cy="240" r="44" fill="#3b9bd0" opacity="0.8"/><circle cx="845" cy="238" r="24" fill="#bdf0ff"/>
<path d="M850 235 L925 200" stroke="#bdf0ff" stroke-width="8"/>
<rect x="950" y="240" width="55" height="7" fill="#7fd0f2" opacity="0.55"/>
<rect x="950" y="256" width="55" height="7" fill="#7fd0f2" opacity="0.55"/>
<rect x="950" y="272" width="55" height="7" fill="#7fd0f2" opacity="0.55"/>
<rect x="950" y="288" width="55" height="7" fill="#7fd0f2" opacity="0.55"/>
<rect x="950" y="304" width="55" height="7" fill="#7fd0f2" opacity="0.55"/>
<rect x="712" y="350" width="95" height="85" fill="#1f4f7a" fill-opacity="0.5" stroke="#7fd0f2" stroke-opacity="0.6" stroke-width="3"/>
<circle cx="758" cy="393" r="26" fill="none" stroke="#7fd0f2" stroke-width="7"/><circle cx="758" cy="393" r="10" fill="#7fd0f2"/>
<rect x="838" y="352" width="140" height="82" fill="#1f4f7a" fill-opacity="0.5" stroke="#7fd0f2" stroke-opacity="0.6" stroke-width="3"/>
<rect x="860" y="360" width="105" height="18" fill="#7fd0f2" opacity="0.7"/><rect x="860" y="395" width="115" height="30" fill="#6fc0e4" opacity="0.7"/>
<ellipse cx="545" cy="860" rx="520" ry="150" fill="#0c1f3d" opacity="0.55"/>
<line x1="50" y1="905" x2="330" y2="880" stroke="#4f9ccc" stroke-width="4" opacity="0.6"/>
<line x1="190" y1="1025" x2="330" y2="930" stroke="#4f9ccc" stroke-width="4" opacity="0.6"/>
<line x1="350" y1="1025" x2="420" y2="960" stroke="#4f9ccc" stroke-width="4" opacity="0.6"/>
<line x1="1025" y1="900" x2="800" y2="880" stroke="#4f9ccc" stroke-width="4" opacity="0.6"/>
<line x1="900" y1="1025" x2="780" y2="940" stroke="#4f9ccc" stroke-width="4" opacity="0.6"/>
<line x1="720" y1="1025" x2="680" y2="965" stroke="#4f9ccc" stroke-width="4" opacity="0.6"/>
<line x1="50" y1="760" x2="200" y2="790" stroke="#4f9ccc" stroke-width="4" opacity="0.6"/>
<line x1="1025" y1="760" x2="880" y2="790" stroke="#4f9ccc" stroke-width="4" opacity="0.6"/>
<rect x="70" y="950" width="160" height="22" rx="8" fill="#4fa8dc" opacity="0.75"/>
<ellipse cx="545" cy="865" rx="440" ry="118" fill="#0e2444" stroke="#3f86b8" stroke-width="5" opacity="0.9"/>
<path d="M760 950 A 440 118 0 0 0 975 845" fill="none" stroke="#d8646f" stroke-width="9" opacity="0.9"/>
<path d="M215 905 A 440 118 0 0 0 520 978" fill="none" stroke="#7fd8d0" stroke-width="16" opacity="0.85"/>
<path d="M540 978 A 440 118 0 0 0 740 955" fill="none" stroke="#8fb4cc" stroke-width="14" stroke-dasharray="4 5" opacity="0.7"/>
<path d="M160 790 Q165 640 230 600 Q300 560 380 535 L585 560 Q680 580 715 640 L720 800 Z" fill="url(#rbody)"/>
<path d="M268 580 Q350 600 370 700 Q372 750 340 760 L300 640 Q280 600 205 640 Q225 600 268 580 Z" fill="#0f1726"/>
<path d="M630 575 Q690 610 700 700 L660 640 Z" fill="#0f1726"/>
<circle cx="440" cy="628" r="13" fill="#c5ccd8" stroke="#8b96a8" stroke-width="3"/>
<path d="M428 400 L560 480 L590 600 Q520 640 420 560 L372 520 Z" fill="#0d1322"/>
<path d="M500 498 Q540 510 572 504" stroke="#5d6d86" stroke-width="6" fill="none"/>
<path d="M500 516 Q540 528 572 522" stroke="#5d6d86" stroke-width="6" fill="none"/>
<path d="M500 534 Q540 546 572 540" stroke="#5d6d86" stroke-width="6" fill="none"/>
<path d="M500 552 Q540 564 572 558" stroke="#5d6d86" stroke-width="6" fill="none"/>
<path d="M500 570 Q540 582 572 576" stroke="#5d6d86" stroke-width="6" fill="none"/>
<path d="M500 588 Q540 600 572 594" stroke="#5d6d86" stroke-width="6" fill="none"/>
<path d="M440 420 L425 540" stroke="#9aa6b8" stroke-width="8" fill="none"/>
<path d="M365 515 Q470 610 600 590 L598 615 Q470 645 360 545 Z" fill="#1a2234"/>
<path d="M380 260 C375 170 450 125 535 125 C615 125 665 185 668 270 L660 330 L640 400 L625 470 L585 495 L520 478 L455 420 L420 370 Z" fill="url(#rhead)"/>
<path d="M520 300 L665 300 L640 400 L625 470 L585 495 L545 470 Z" fill="#e9edf3"/>
<path d="M380 260 C375 170 450 125 535 125 C480 150 470 250 500 330 L520 478 L455 420 L420 370 Z" fill="#aeb9ca" opacity="0.75"/>
<path d="M505 150 Q560 175 570 225 Q600 215 655 225" fill="none" stroke="#8d99ad" stroke-width="4"/>
<path d="M470 345 Q520 380 520 478" fill="none" stroke="#8d99ad" stroke-width="5"/>
<path d="M528 320 Q555 305 585 322 Q555 335 528 320 Z" fill="#5cc8f4"/><path d="M625 322 Q645 310 662 322 Q645 333 625 322 Z" fill="#5cc8f4"/>
<path d="M520 308 L590 310 M620 310 L665 308" stroke="#5d6d86" stroke-width="5"/>
<path d="M612 330 L622 395 L600 400" fill="none" stroke="#9aa6b8" stroke-width="5"/>
<path d="M580 435 L628 432" stroke="#7f8ba0" stroke-width="6"/>
<path d="M460 200 Q500 260 480 350 L455 360 Q470 270 435 215 Z" fill="#141b2b"/>
<circle cx="415" cy="270" r="62" fill="#141b2b"/><circle cx="415" cy="270" r="50" fill="#b8c3d3"/><circle cx="415" cy="270" r="38" fill="#1f5f96"/>
<circle cx="415" cy="270" r="26" fill="#5cc8f4"/><circle cx="415" cy="270" r="11" fill="#e4fbff"/>
<ellipse cx="545" cy="840" rx="470" ry="170" fill="url(#hglow)"/>
<path d="M330 830 L380 600 L710 600 L760 830 Z" fill="url(#hcol)"/>
<rect x="330" y="700" width="7" height="120" fill="url(#beam)"/>
<rect x="350" y="663" width="7" height="157" fill="url(#beam)"/>
<rect x="370" y="626" width="7" height="194" fill="url(#beam)"/>
<rect x="390" y="679" width="7" height="141" fill="url(#beam)"/>
<rect x="410" y="642" width="7" height="178" fill="url(#beam)"/>
<rect x="430" y="695" width="7" height="125" fill="url(#beam)"/>
<rect x="450" y="658" width="7" height="162" fill="url(#beam)"/>
<rect x="470" y="621" width="7" height="199" fill="url(#beam)"/>
<rect x="490" y="674" width="7" height="146" fill="url(#beam)"/>
<rect x="510" y="637" width="7" height="183" fill="url(#beam)"/>
<rect x="530" y="690" width="7" height="130" fill="url(#beam)"/>
<rect x="550" y="653" width="7" height="167" fill="url(#beam)"/>
<rect x="570" y="616" width="7" height="204" fill="url(#beam)"/>
<rect x="590" y="669" width="7" height="151" fill="url(#beam)"/>
<rect x="610" y="632" width="7" height="188" fill="url(#beam)"/>
<rect x="630" y="685" width="7" height="135" fill="url(#beam)"/>
<rect x="650" y="648" width="7" height="172" fill="url(#beam)"/>
<rect x="670" y="611" width="7" height="209" fill="url(#beam)"/>
<rect x="690" y="664" width="7" height="156" fill="url(#beam)"/>
<rect x="710" y="627" width="7" height="193" fill="url(#beam)"/>
<rect x="730" y="680" width="7" height="140" fill="url(#beam)"/>
<rect x="750" y="643" width="7" height="177" fill="url(#beam)"/>
<ellipse cx="545" cy="835" rx="335" ry="82" fill="#1d5c92" opacity="0.75" stroke="#7fd0f2" stroke-width="6"/>
<ellipse cx="545" cy="835" rx="270" ry="64" fill="none" stroke="#a8e6ff" stroke-width="9"/>
<ellipse cx="545" cy="832" rx="205" ry="48" fill="url(#holo)"/>
<ellipse cx="545" cy="832" rx="150" ry="33" fill="none" stroke="#d9f6ff" stroke-width="6"/>
<ellipse cx="545" cy="830" rx="80" ry="18" fill="#ffffff"/>
<path d="M690 482 L957 474 L900 742 L640 772 Z" fill="url(#tab)" stroke="#d4f1ff" stroke-width="6" stroke-linejoin="round"/>
<circle cx="835" cy="592" r="72" fill="none" stroke="#d4f1ff" stroke-width="5" opacity="0.9"/><circle cx="835" cy="592" r="52" fill="#4fb4e6" opacity="0.6"/><circle cx="838" cy="592" r="28" fill="#e4fbff"/>
<rect x="712" y="520" width="70" height="7" fill="#e4fbff" opacity="0.8"/>
<rect x="707" y="542" width="66" height="7" fill="#e4fbff" opacity="0.8"/>
<rect x="702" y="564" width="62" height="7" fill="#e4fbff" opacity="0.8"/>
<rect x="697" y="586" width="58" height="7" fill="#e4fbff" opacity="0.8"/>
<rect x="692" y="608" width="54" height="7" fill="#e4fbff" opacity="0.8"/>
<path d="M668 715 L880 690 M664 738 L800 722" stroke="#e4fbff" stroke-width="6" opacity="0.7"/>
</g></g>
<rect x="1231.6" y="639" width="276.8" height="148.8" rx="10" fill="#e2edf8"/>
<circle cx="1248.1" cy="656.5" r="5.2" fill="#f0524f"/><circle cx="1263.6" cy="656.5" r="5.2" fill="#f5a73a"/><circle cx="1279.1" cy="656.5" r="5.2" fill="#2fb84a"/>
<text x="1242.6" y="688.4" font-size="16.4" fill="#1a2230" stroke="#1a2230" stroke-width="0.3" font-family='"Liberation Mono", monospace' textLength="212.6" lengthAdjust="spacingAndGlyphs" xml:space="preserve">[Subject: Futuristic AI</text>
<text x="1242.6" y="708.6" font-size="16.4" fill="#1a2230" stroke="#1a2230" stroke-width="0.3" font-family='"Liberation Mono", monospace' textLength="221.9" lengthAdjust="spacingAndGlyphs" xml:space="preserve">Robot, Style: Cinematic,</text>
<text x="1242.6" y="729.2" font-size="16.4" fill="#1a2230" stroke="#1a2230" stroke-width="0.3" font-family='"Liberation Mono", monospace' textLength="258.9" lengthAdjust="spacingAndGlyphs" xml:space="preserve">High Detail, Lighting: Neon,</text>
<text x="1242.6" y="749.8" font-size="16.4" fill="#1a2230" stroke="#1a2230" stroke-width="0.3" font-family='"Liberation Mono", monospace' textLength="194.1" lengthAdjust="spacingAndGlyphs" xml:space="preserve">Context: Data Center,</text>
<text x="1242.6" y="770.3" font-size="16.4" fill="#1a2230" stroke="#1a2230" stroke-width="0.3" font-family='"Liberation Mono", monospace' textLength="166.4" lengthAdjust="spacingAndGlyphs" xml:space="preserve">Output: 4K Render]</text>
</g>
<g filter="url(#sh3)"><path d="M379.5 497 L381 497 Q382 530 407 531 L420 531 L420 496 Q421 492 425 495 L491 569 Q494 572 491 575 L425 651 Q421 654 420 649 L420 613 L407 613 Q382 614 381 647 L379.5 647 Z" fill="url(#a0)" stroke="none"/><path d="M381 497 Q382 530 407 531 L420 531 L420 496 Q421 492 425 495 L491 569 Q494 572 491 575 L425 651 Q421 654 420 649 L420 613 L407 613 Q382 614 381 647" fill="none" stroke="#ffffff" stroke-width="4" stroke-linejoin="round" stroke-linecap="butt"/></g>
<g fill="none" stroke="#d8ecfa" stroke-width="1.1" opacity="0.42" stroke-linecap="round" stroke-linejoin="round">
<polyline points="383,533 389,533 399,545.5 426,545.5"/>
<circle cx="428.5" cy="546" r="2.6"/>
<polyline points="383,552 401,552 407,557 412,557"/>
<circle cx="414.5" cy="557" r="2.6"/>
<polyline points="383,557 403,557"/>
<polyline points="383,571.5 399,571.5"/>
<circle cx="401.5" cy="571.5" r="2.6"/>
<polyline points="412,571.5 458,571.5"/>
<circle cx="460.5" cy="571.5" r="2.6"/>
<polyline points="427,563.5 437,552.5 446,552.5"/>
<circle cx="448.5" cy="552.5" r="2.6"/>
<polyline points="409,583.5 417,577.5 441,577.5"/>
<circle cx="443.5" cy="577.5" r="2.6"/>
<polyline points="383,586 403,586 409,591 417,591"/>
<circle cx="419.5" cy="592.5" r="2.6"/>
<polyline points="383,592 393,592 403,600 427,600"/>
<circle cx="429.5" cy="600" r="2.6"/>
<polyline points="383,615 395,602 423,593 441,593"/>
<circle cx="443.5" cy="595" r="2.6"/>
</g>
<g filter="url(#sh3)"><path d="M759.5 497 L761 497 Q762 530 787 531 L800 531 L800 496 Q801 492 805 495 L871 569 Q874 572 871 575 L805 651 Q801 654 800 649 L800 613 L787 613 Q762 614 761 647 L759.5 647 Z" fill="url(#a1)" stroke="none"/><path d="M761 497 Q762 530 787 531 L800 531 L800 496 Q801 492 805 495 L871 569 Q874 572 871 575 L805 651 Q801 654 800 649 L800 613 L787 613 Q762 614 761 647" fill="none" stroke="#ffffff" stroke-width="4" stroke-linejoin="round" stroke-linecap="butt"/></g>
<g fill="none" stroke="#b9d6f2" stroke-width="1.1" opacity="0.42" stroke-linecap="round" stroke-linejoin="round">
<polyline points="763,533 769,533 779,545.5 806,545.5"/>
<circle cx="808.5" cy="546" r="2.6"/>
<polyline points="763,552 781,552 787,557 792,557"/>
<circle cx="794.5" cy="557" r="2.6"/>
<polyline points="763,557 783,557"/>
<polyline points="763,571.5 779,571.5"/>
<circle cx="781.5" cy="571.5" r="2.6"/>
<polyline points="792,571.5 838,571.5"/>
<circle cx="840.5" cy="571.5" r="2.6"/>
<polyline points="807,563.5 817,552.5 826,552.5"/>
<circle cx="828.5" cy="552.5" r="2.6"/>
<polyline points="789,583.5 797,577.5 821,577.5"/>
<circle cx="823.5" cy="577.5" r="2.6"/>
<polyline points="763,586 783,586 789,591 797,591"/>
<circle cx="799.5" cy="592.5" r="2.6"/>
<polyline points="763,592 773,592 783,600 807,600"/>
<circle cx="809.5" cy="600" r="2.6"/>
<polyline points="763,615 775,602 803,593 821,593"/>
<circle cx="823.5" cy="595" r="2.6"/>
</g>
<g filter="url(#sh3)"><path d="M1139.5 497 L1141 497 Q1142 530 1167 531 L1180 531 L1180 496 Q1181 492 1185 495 L1251 569 Q1254 572 1251 575 L1185 651 Q1181 654 1180 649 L1180 613 L1167 613 Q1142 614 1141 647 L1139.5 647 Z" fill="url(#a2)" stroke="none"/><path d="M1141 497 Q1142 530 1167 531 L1180 531 L1180 496 Q1181 492 1185 495 L1251 569 Q1254 572 1251 575 L1185 651 Q1181 654 1180 649 L1180 613 L1167 613 Q1142 614 1141 647" fill="none" stroke="#ffffff" stroke-width="4" stroke-linejoin="round" stroke-linecap="butt"/></g>
<g fill="none" stroke="#8fa9dc" stroke-width="1.1" opacity="0.42" stroke-linecap="round" stroke-linejoin="round">
<polyline points="1143,533 1149,533 1159,545.5 1186,545.5"/>
<circle cx="1188.5" cy="546" r="2.6"/>
<polyline points="1143,552 1161,552 1167,557 1172,557"/>
<circle cx="1174.5" cy="557" r="2.6"/>
<polyline points="1143,557 1163,557"/>
<polyline points="1143,571.5 1159,571.5"/>
<circle cx="1161.5" cy="571.5" r="2.6"/>
<polyline points="1172,571.5 1218,571.5"/>
<circle cx="1220.5" cy="571.5" r="2.6"/>
<polyline points="1187,563.5 1197,552.5 1206,552.5"/>
<circle cx="1208.5" cy="552.5" r="2.6"/>
<polyline points="1169,583.5 1177,577.5 1201,577.5"/>
<circle cx="1203.5" cy="577.5" r="2.6"/>
<polyline points="1143,586 1163,586 1169,591 1177,591"/>
<circle cx="1179.5" cy="592.5" r="2.6"/>
<polyline points="1143,592 1153,592 1163,600 1187,600"/>
<circle cx="1189.5" cy="600" r="2.6"/>
<polyline points="1143,615 1155,602 1183,593 1201,593"/>
<circle cx="1203.5" cy="595" r="2.6"/>
</g>
<text x="150.56" y="851.3" font-size="27.3" font-weight="normal" fill="#161616" stroke="#161616" stroke-width="0.35" stroke-linejoin="round" font-family='"Liberation Sans", sans-serif' textLength="158.41" lengthAdjust="spacingAndGlyphs" >Brainstorming</text>
<text x="150.12" y="882.5" font-size="27.3" font-weight="normal" fill="#161616" stroke="#161616" stroke-width="0.35" stroke-linejoin="round" font-family='"Liberation Sans", sans-serif' textLength="159.26" lengthAdjust="spacingAndGlyphs" >Diverse Inputs</text>
<text x="148.10" y="914" font-size="27.3" font-weight="normal" fill="#161616" stroke="#161616" stroke-width="0.35" stroke-linejoin="round" font-family='"Liberation Sans", sans-serif' textLength="163.84" lengthAdjust="spacingAndGlyphs" >Rapid Iteration</text>
<text x="158.64" y="945" font-size="27.3" font-weight="normal" fill="#161616" stroke="#161616" stroke-width="0.35" stroke-linejoin="round" font-family='"Liberation Sans", sans-serif' textLength="142.27" lengthAdjust="spacingAndGlyphs" >Broad Scope</text>
<text x="498.11" y="851.3" font-size="27.3" font-weight="normal" fill="#161616" stroke="#161616" stroke-width="0.35" stroke-linejoin="round" font-family='"Liberation Sans", sans-serif' textLength="222.91" lengthAdjust="spacingAndGlyphs" >Filtering &amp; Selection</text>
<text x="481.76" y="882.5" font-size="27.3" font-weight="normal" fill="#161616" stroke="#161616" stroke-width="0.35" stroke-linejoin="round" font-family='"Liberation Sans", sans-serif' textLength="255.53" lengthAdjust="spacingAndGlyphs" >Focusing on Relevance</text>
<text x="498.84" y="914" font-size="27.3" font-weight="normal" fill="#161616" stroke="#161616" stroke-width="0.35" stroke-linejoin="round" font-family='"Liberation Sans", sans-serif' textLength="220.48" lengthAdjust="spacingAndGlyphs" >Improving Structure</text>
<text x="472.27" y="945" font-size="27.3" font-weight="normal" fill="#161616" stroke="#161616" stroke-width="0.35" stroke-linejoin="round" font-family='"Liberation Sans", sans-serif' textLength="274.05" lengthAdjust="spacingAndGlyphs" >Identifying Key Elements</text>
<text x="897.11" y="851.3" font-size="27.3" font-weight="normal" fill="#161616" stroke="#161616" stroke-width="0.35" stroke-linejoin="round" font-family='"Liberation Sans", sans-serif' textLength="185.30" lengthAdjust="spacingAndGlyphs" >Precision Tuning</text>
<text x="877.72" y="882.5" font-size="27.3" font-weight="normal" fill="#161616" stroke="#161616" stroke-width="0.35" stroke-linejoin="round" font-family='"Liberation Sans", sans-serif' textLength="223.99" lengthAdjust="spacingAndGlyphs" >Enhancing Specifics</text>
<text x="880.54" y="914" font-size="27.3" font-weight="normal" fill="#161616" stroke="#161616" stroke-width="0.35" stroke-linejoin="round" font-family='"Liberation Sans", sans-serif' textLength="219.16" lengthAdjust="spacingAndGlyphs" >Correcting Nuances</text>
<text x="877.14" y="945" font-size="27.3" font-weight="normal" fill="#161616" stroke="#161616" stroke-width="0.35" stroke-linejoin="round" font-family='"Liberation Sans", sans-serif' textLength="225.16" lengthAdjust="spacingAndGlyphs" >Refining Parameters</text>
<text x="1265.78" y="851.3" font-size="27.3" font-weight="normal" fill="#161616" stroke="#161616" stroke-width="0.35" stroke-linejoin="round" font-family='"Liberation Sans", sans-serif' textLength="205.70" lengthAdjust="spacingAndGlyphs" >Deployment Ready</text>
<text x="1257.71" y="882.5" font-size="27.3" font-weight="normal" fill="#161616" stroke="#161616" stroke-width="0.35" stroke-linejoin="round" font-family='"Liberation Sans", sans-serif' textLength="222.59" lengthAdjust="spacingAndGlyphs" >Maximum Efficiency</text>
<text x="1269.93" y="914" font-size="27.3" font-weight="normal" fill="#161616" stroke="#161616" stroke-width="0.35" stroke-linejoin="round" font-family='"Liberation Sans", sans-serif' textLength="199.68" lengthAdjust="spacingAndGlyphs" >Consistent Output</text>
<text x="1273.05" y="945" font-size="27.3" font-weight="normal" fill="#161616" stroke="#161616" stroke-width="0.35" stroke-linejoin="round" font-family='"Liberation Sans", sans-serif' textLength="193.96" lengthAdjust="spacingAndGlyphs" >Scalable Solution</text>
<text x="518.08" y="1043" font-size="18.3" font-weight="normal" fill="#1a1a1a" stroke="#1a1a1a" stroke-width="0.25" stroke-linejoin="round" font-family='"Liberation Sans", sans-serif' textLength="560.70" lengthAdjust="spacingAndGlyphs" >Â© 2024 PromptFlow Solutions. All rights reserved. Optimized for AI Models.</text>
</svg>
</body></html>
